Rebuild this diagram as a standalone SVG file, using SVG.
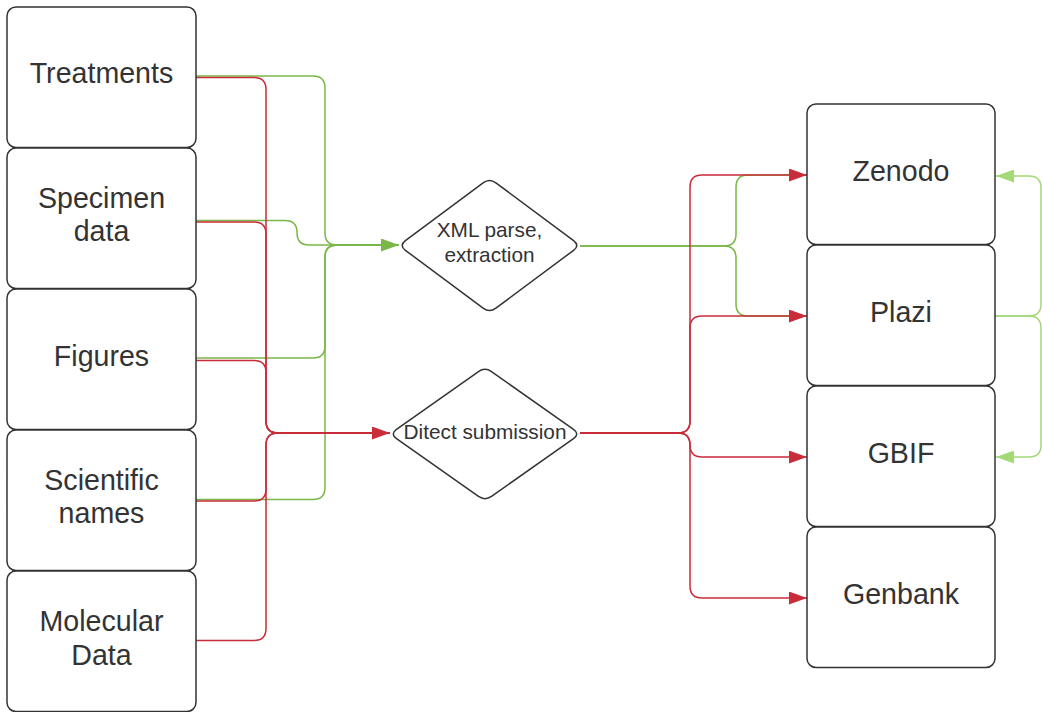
<svg xmlns="http://www.w3.org/2000/svg" width="1042" height="712" viewBox="0 0 1042 712">
<defs>
<style>
.box{fill:#fff;stroke:#333;stroke-width:1.5}
.t{font-family:"Liberation Sans",Arial,sans-serif;font-size:28.6px;fill:#333;text-anchor:middle}
.td{font-family:"Liberation Sans",Arial,sans-serif;font-size:20.8px;fill:#333;text-anchor:middle}
.g{fill:none;stroke:#7ab648;stroke-width:1.5}
.r{fill:none;stroke:#c92d39;stroke-width:1.5}
.lg{fill:none;stroke:#a3d977;stroke-width:1.5}
</style>
<marker id="ag" viewBox="0 0 18 13" refX="18" refY="6.5" markerWidth="18" markerHeight="13" markerUnits="userSpaceOnUse" orient="auto"><path d="M0,0 L18,6.5 L0,13 Z" fill="#7ab648"/></marker>
<marker id="ar" viewBox="0 0 18 13" refX="18" refY="6.5" markerWidth="18" markerHeight="13" markerUnits="userSpaceOnUse" orient="auto"><path d="M0,0 L18,6.5 L0,13 Z" fill="#c92d39"/></marker>
<marker id="alg" viewBox="0 0 18 13" refX="18" refY="6.5" markerWidth="18" markerHeight="13" markerUnits="userSpaceOnUse" orient="auto"><path d="M0,0 L18,6.5 L0,13 Z" fill="#a3d977"/></marker>
</defs>
<g id="connectors">
<path class="g" d="M196,76 H313 Q325,76 325,88 V233 Q325,245 337,245 H399"/>
<path class="g" d="M196,220.5 H285 Q297,220.5 297,232.5 Q297,245 309,245 H399"/>
<path class="g" d="M196,358 H313 Q325,358 325,346 V257 Q325,245 337,245 H399"/>
<path class="g" d="M196,499.5 H313 Q325,499.5 325,487.5 V257 Q325,245 337,245 H399" marker-end="url(#ag)"/>
<path class="r" d="M196,77.5 H254 Q266,77.5 266,89.5 V421 Q266,433 278,433 H390"/>
<path class="r" d="M196,222 H254 Q266,222 266,234 V421 Q266,433 278,433 H390"/>
<path class="r" d="M196,360.5 H254 Q266,360.5 266,372.5 V421 Q266,433 278,433 H390"/>
<path class="r" d="M196,501 H254 Q266,501 266,489 V445 Q266,433 278,433 H390"/>
<path class="r" d="M196,640.5 H254 Q266,640.5 266,628.5 V445 Q266,433 278,433 H390" marker-end="url(#ar)"/>
<path class="g" d="M580,246 H724 Q736,246 736,234 V187 Q736,175 748,175 H807"/>
<path class="g" d="M580,246 H724 Q736,246 736,258 V304 Q736,316 748,316 H807"/>
<path class="r" d="M580,433 H678 Q690,433 690,421 V187 Q690,175 702,175 H807" marker-end="url(#ar)"/>
<path class="r" d="M580,433 H678 Q690,433 690,421 V328 Q690,316 702,316 H807" marker-end="url(#ar)"/>
<path class="r" d="M580,433 H678 Q690,433 690,445 Q690,457 702,457 H807" marker-end="url(#ar)"/>
<path class="r" d="M580,433 H678 Q690,433 690,445 V586 Q690,598 702,598 H807" marker-end="url(#ar)"/>
<path class="lg" d="M995,316 H1029 Q1041,316 1041,304 V188 Q1041,176 1029,176 H996" marker-end="url(#alg)"/>
<path class="lg" d="M995,316 H1029 Q1041,316 1041,328 V445 Q1041,457 1029,457 H996" marker-end="url(#alg)"/>
</g>
<g id="treatments"><rect class="box" x="7" y="7" width="189" height="140.5" rx="9"/><text class="t" x="101.5" y="83">Treatments</text></g>
<g id="specimen"><rect class="box" x="7" y="148" width="189" height="140.5" rx="9"/><text class="t" x="101.5" y="207.5">Specimen</text><text class="t" x="101.5" y="241">data</text></g>
<g id="figures"><rect class="box" x="7" y="289" width="189" height="140.5" rx="9"/><text class="t" x="101.5" y="365.5">Figures</text></g>
<g id="scientific"><rect class="box" x="7" y="430" width="189" height="140.5" rx="9"/><text class="t" x="101.5" y="489.5">Scientific</text><text class="t" x="101.5" y="523">names</text></g>
<g id="molecular"><rect class="box" x="7" y="571" width="189" height="140.5" rx="9"/><text class="t" x="101.5" y="631">Molecular</text><text class="t" x="101.5" y="664.5">Data</text></g>
<g id="xml"><path class="box" d="M495.9,182.8 L573.6,240.7 Q580,245.5 573.6,250.3 L495.9,308.2 Q489.5,313 483.1,308.2 L405.4,250.3 Q399,245.5 405.4,240.7 L483.1,182.8 Q489.5,178 495.9,182.8 Z"/><text class="td" x="489.5" y="237">XML parse,</text><text class="td" x="489.5" y="261.5">extraction</text></g>
<g id="ditect"><path class="box" d="M491.5,371.6 L573.5,429.4 Q580,434 573.5,438.6 L491.5,496.4 Q485,501 478.5,496.4 L396.5,438.6 Q390,434 396.5,429.4 L478.5,371.6 Q485,367 491.5,371.6 Z"/><text class="td" x="485" y="438.5">Ditect submission</text></g>
<g id="zenodo"><rect class="box" x="807" y="104" width="188" height="140.5" rx="9"/><text class="t" x="901" y="181">Zenodo</text></g>
<g id="plazi"><rect class="box" x="807" y="245" width="188" height="140.5" rx="9"/><text class="t" x="901" y="322">Plazi</text></g>
<g id="gbif"><rect class="box" x="807" y="386" width="188" height="140.5" rx="9"/><text class="t" x="901" y="463">GBIF</text></g>
<g id="genbank"><rect class="box" x="807" y="527" width="188" height="140.5" rx="9"/><text class="t" x="901" y="604">Genbank</text></g>
</svg>
